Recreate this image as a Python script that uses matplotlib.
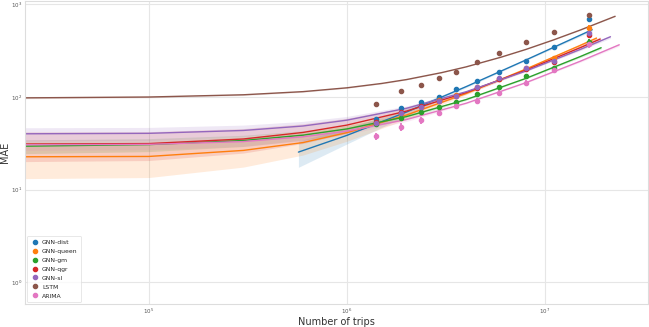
import numpy as np
import matplotlib
matplotlib.use("Agg")
import matplotlib.pyplot as plt
import seaborn as sns
from matplotlib.lines import Line2D

sns.set_style("whitegrid")
plt.rcParams['font.family'] = ['DejaVu Sans']

series = ["GNN-dist", "GNN-queen", "GNN-gm", "GNN-qgr", "GNN-sl", "LSTM", "ARIMA"]
colors = ["#1f77b4", "#ff7f0e", "#2ca02c", "#d62728", "#9467bd", "#8c564b", "#e377c2"]

# x positions of the aggregated points (number of trips)
x_pts = [1.40e6, 1.88e6, 2.36e6, 2.92e6, 3.54e6, 4.55e6, 5.86e6, 8.02e6, 1.11e7, 1.66e7]

# mean MAE at each point
y_dist  = [57.3, 75.4, 88.3, 101, 121, 149, 188, 245, 343, 690]
y_queen = [52, 66, 78, 92, 104, 128, 158, 205, 262, 555]
y_gm    = [50.6, 59.8, 68.8, 77.9, 88.3, 107, 129.6, 169, 203, 391]
y_qgr   = [54, 68, 79, 91, 102, 126, 155, 200, 240, 470]
y_sl    = [52.8, 67.8, 77.9, 90.5, 102.5, 129.6, 160.6, 208, 245, 486]
y_lstm  = [85, 115, 136, 159, 188, 236, 300, 394, 506, 760]
y_arima = [37.8, 47.3, 56.4, 67.8, 79.9, 90.5, 109.7, 143, 195, 372]

# error-bar half widths
e_dist  = [2.5, 3, 3, 3, 3.5, 4, 5, 7, 10, 45]
e_queen = [2, 2.5, 3, 3, 3.5, 4, 5, 7, 10, 40]
e_gm    = [2, 2.5, 3, 3, 3.5, 4, 5, 7, 9, 30]
e_qgr   = [2, 2.5, 3, 3, 3.5, 4, 5, 7, 9, 35]
e_sl    = [2.5, 3, 3, 3.5, 4, 5, 6, 8, 12, 50]
e_lstm  = [1.5, 2, 2, 2.5, 3, 3.5, 4, 5, 7, 30]
e_arima = [3.5, 4.5, 5, 5.5, 6, 6.5, 8, 10, 13, 35]

# fitted line vertices and confidence band
xl_dist  = [5.69e5, 1e6, 2e6, 4e6, 8e6, 1.5e7, 1.73e7]
yl_dist  = [25.4, 38.5, 68.8, 129.4, 250.6, 462.7, 532.4]
lo_dist  = [17.4, 31.1, 62.8, 126.1, 246.8, 448.8, 515.1]
hi_dist  = [33.4, 45.9, 74.8, 132.7, 254.4, 476.6, 549.7]

xl_queen = [2e4, 1e5, 3e5, 6e5, 1e6, 2e6, 4e6, 8e6, 1.5e7, 1.82e7]
yl_queen = [22.6, 22.8, 26.5, 32.2, 41.2, 63.9, 109, 200, 359, 432]
lo_queen = [13.1, 13.5, 17.5, 23.6, 33.3, 57.5, 105.5, 195.9, 344.2, 412]
hi_queen = [32.1, 32.1, 35.5, 40.8, 49.1, 70.3, 112.5, 204.1, 373.8, 452]

xl_gm    = [2e4, 1e5, 3e5, 6e5, 1e6, 2e6, 4e6, 8e6, 1.5e7, 1.92e7]
yl_gm    = [29.3, 30.6, 33.9, 38.7, 45.2, 61.4, 93.8, 158.6, 272, 340]
lo_gm    = [24.3, 25.7, 29.2, 34.2, 41.0, 58.0, 91.9, 156.4, 264.2, 328.7]
hi_gm    = [34.3, 35.5, 38.6, 43.2, 49.4, 64.8, 95.7, 160.8, 279.8, 351.3]

xl_qgr   = [2e4, 1e5, 3e5, 6e5, 1e6, 2e6, 4e6, 8e6, 1.5e7, 1.9e7]
yl_qgr   = [31, 31.4, 35.2, 41.4, 49.7, 70.4, 111.8, 194.6, 339.5, 422]
lo_qgr   = [20, 20.6, 24.8, 31.5, 40.5, 63, 107.7, 189.9, 322.3, 397.4]
hi_qgr   = [42, 42.2, 45.6, 51.3, 58.9, 77.8, 115.9, 199.3, 356.7, 446.6]

xl_sl    = [2e4, 1e5, 3e5, 6e5, 1e6, 2e6, 4e6, 8e6, 1.5e7, 2.14e7]
yl_sl    = [40, 40.5, 43.5, 48.6, 56.2, 75.5, 114, 190.5, 325, 447]
lo_sl    = [33.5, 34.1, 37.3, 42.7, 50.8, 71.1, 111.6, 187.7, 314.9, 429.9]
hi_sl    = [46.5, 46.9, 49.7, 54.5, 61.6, 79.9, 116.4, 193.3, 335.1, 464.1]

xl_lstm  = [2e4, 1e5, 3e5, 6e5, 1e6, 1.5e6, 2e6, 3e6, 4e6, 6e6, 8e6, 1.1e7, 1.5e7, 2.26e7]
yl_lstm  = [97.6, 99.9, 105.6, 114.2, 125.6, 140, 154.2, 183, 211.4, 269, 325.8, 412, 526.0, 743.0]
lo_lstm  = [95.6, 97.9, 103.7, 112.4, 123.9, 138.5, 152.9, 182, 210.7, 268, 324.9, 410, 522.9, 738.0]
hi_lstm  = [99.6, 101.9, 107.5, 116.0, 127.3, 141.5, 155.5, 184, 212.1, 270, 326.7, 414, 529.1, 748.0]

xl_arima = [2e4, 1e5, 3e5, 6e5, 1e6, 2e6, 4e6, 8e6, 1.5e7, 2.37e7]
yl_arima = [30.5, 30.8, 33, 37.2, 42.8, 57.1, 85.6, 142.5, 242.2, 366]
lo_arima = [26.5, 26.9, 29.2, 33.6, 39.5, 54.4, 84.1, 140.8, 236, 353.9]
hi_arima = [34.5, 34.7, 36.8, 40.8, 46.1, 59.8, 87.1, 144.2, 248.4, 378.1]

pts = [y_dist, y_queen, y_gm, y_qgr, y_sl, y_lstm, y_arima]
errs = [e_dist, e_queen, e_gm, e_qgr, e_sl, e_lstm, e_arima]
lines = [(xl_dist, yl_dist, lo_dist, hi_dist), (xl_queen, yl_queen, lo_queen, hi_queen),
         (xl_gm, yl_gm, lo_gm, hi_gm), (xl_qgr, yl_qgr, lo_qgr, hi_qgr),
         (xl_sl, yl_sl, lo_sl, hi_sl), (xl_lstm, yl_lstm, lo_lstm, hi_lstm),
         (xl_arima, yl_arima, lo_arima, hi_arima)]

fig = plt.figure(figsize=(6.49, 3.27), dpi=100)
ax = fig.add_axes([0.0385, 0.0703, 0.9595, 0.927])
ax.set_xscale("log")
ax.set_yscale("log")

for name, c, yp, ep, (xl, yl, lo, hi) in zip(series, colors, pts, errs, lines):
    ax.errorbar(x_pts, yp, yerr=ep, fmt="o", color=c, ms=3.0, elinewidth=1.3,
                capsize=0, zorder=3)
    ax.plot(xl, yl, color=c, lw=1.0, zorder=2)
    ax.fill_between(xl, lo, hi, color=c, alpha=0.15, lw=0, zorder=1)

ax.set_xlim(2.37e4, 3.3e7)
ax.set_ylim(0.582, 1090)
ax.grid(True, which="major", color="#e6e6e6", lw=0.8)
ax.grid(False, which="minor")
ax.tick_params(axis="both", which="major", labelsize=4, colors="#555555", length=0, pad=2)
ax.tick_params(axis="both", which="minor", length=0)
for s in ax.spines.values():
    s.set_color("#dddddd")
    s.set_linewidth(0.8)

ax.set_xlabel("Number of trips", fontsize=7, color="#333333", labelpad=0.5)
ax.set_ylabel("MAE", fontsize=7, color="#333333", labelpad=0.5)

proxy = [Line2D([], [], marker="o", ls="none", color=c, ms=3.0) for c in colors]
leg = ax.legend(proxy, series, loc="lower left", fontsize=4.4, frameon=True,
                handletextpad=0.4, labelspacing=0.6, borderpad=0.6, handlelength=1.5,
                borderaxespad=0.3)
leg.get_frame().set_edgecolor("#dddddd")
leg.get_frame().set_linewidth(0.6)

fig.savefig("out.png", dpi=100)
